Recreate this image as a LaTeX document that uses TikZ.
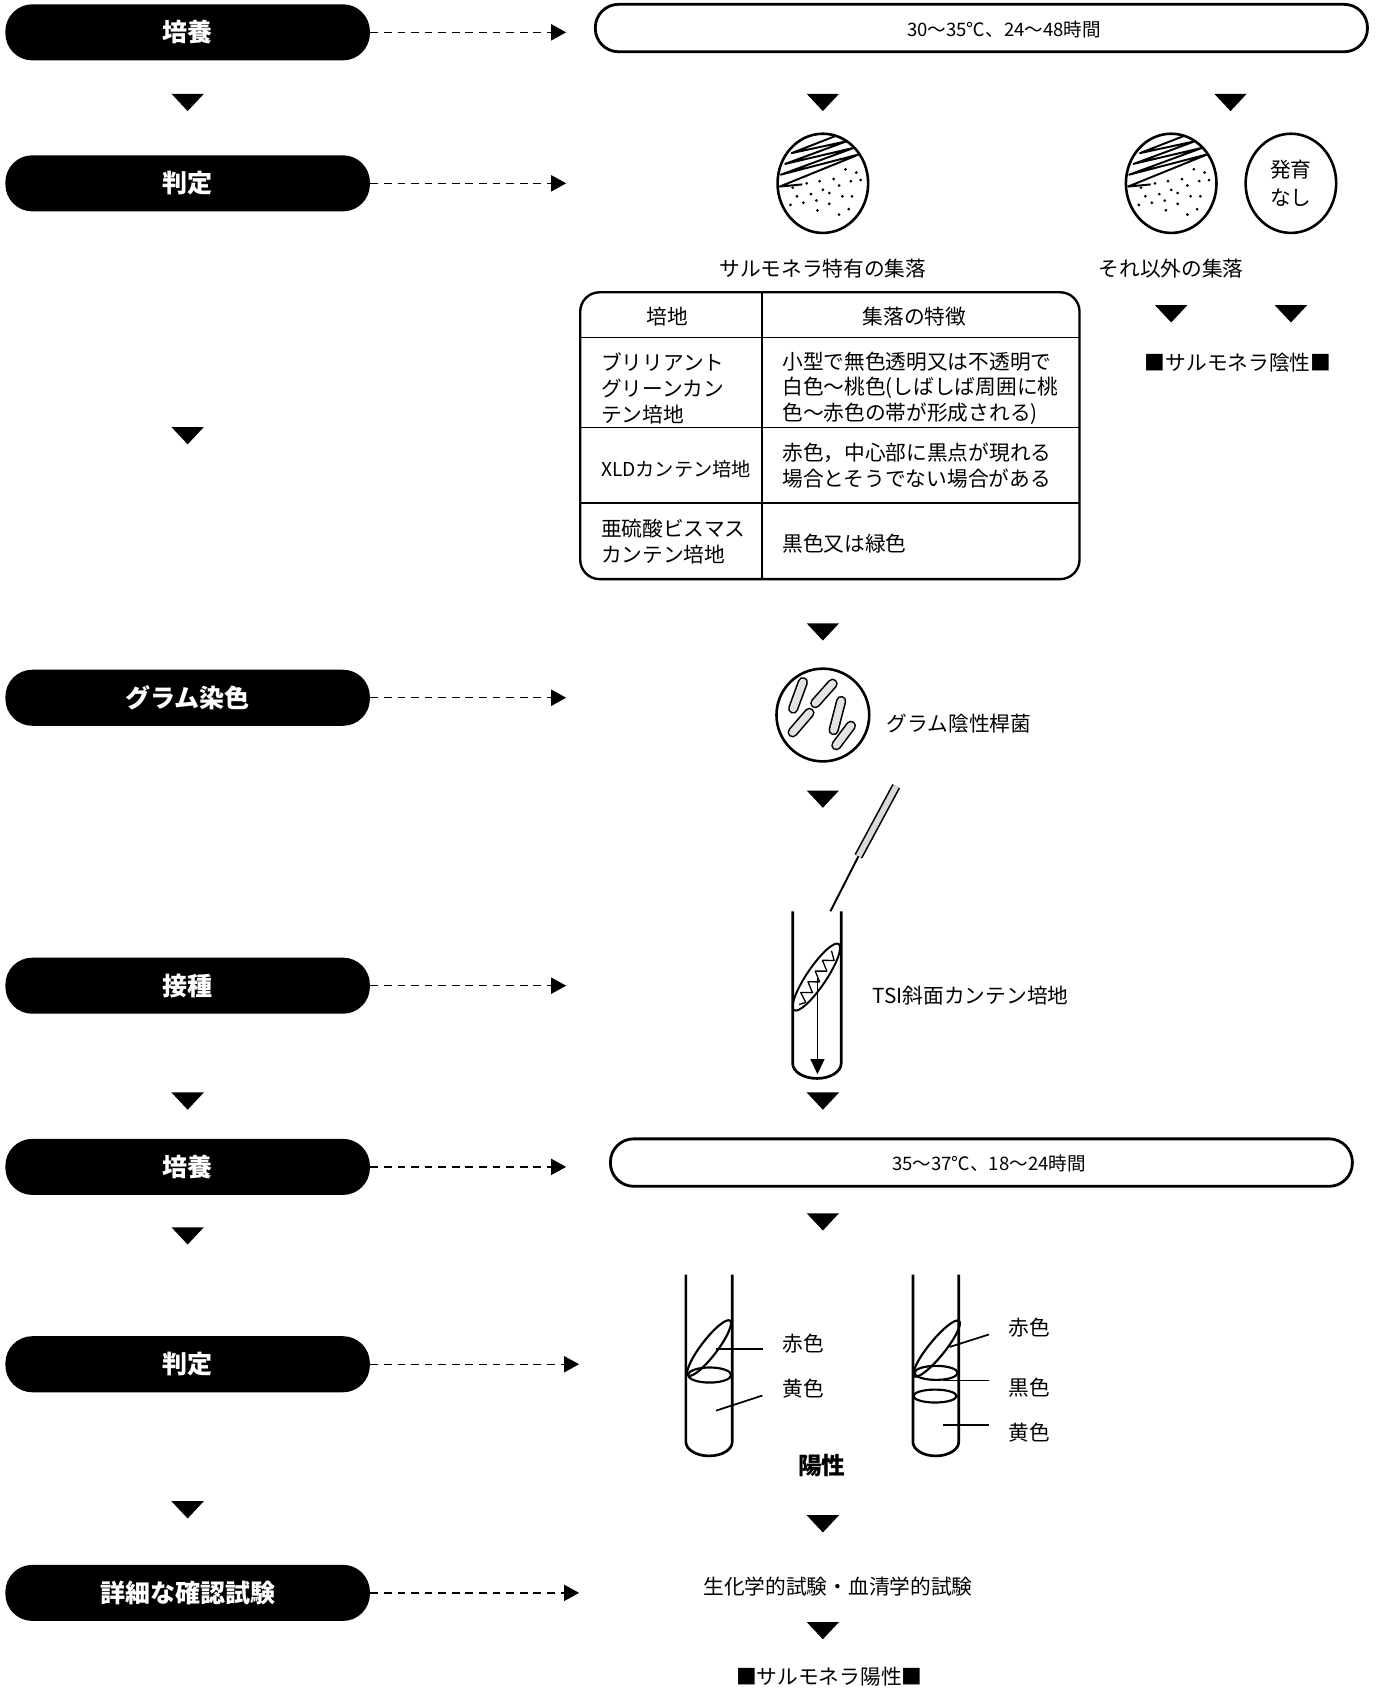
\documentclass[tikz,border=0pt]{standalone}
\usepackage{fontspec}
\setmainfont{Noto Sans CJK JP}
\usetikzlibrary{arrows.meta,shapes.geometric}

\newcommand\txtfont{\fontsize{9.6pt}{12pt}\selectfont}
\newcommand\periodfont{\fontsize{8.6pt}{10pt}\selectfont}
\newcommand\stagefont{\fontsize{11.6pt}{14pt}\selectfont\bfseries}

\tikzset{
  flowtri/.pic={\fill (-15,-8) -- (15,-8) -- (0,8) -- cycle;},
  rod/.style={line width=0.75pt, double=gray!22, double distance=3.3pt, line cap=round},
  % culture plate: streak lines in the upper part, scattered colonies below
  dish/.pic={
    \draw[line width=1.2pt] (0,0) ellipse [x radius=42, y radius=46];
    \begin{scope}
      \clip (0,0) ellipse [x radius=41, y radius=45];
      \draw[line width=0.9pt, line join=round] (-19,1) -- (-40,3) -- (34,-27) -- (-39,-8) -- (29,-33)
        -- (-35,-18) -- (22,-39) -- (-29,-28) -- (12,-44);
    \end{scope}
    \foreach \p in {(21,-13),(31,-10),(-15,0),(-3,-2),(10,-4),(26,-2),(35,-3),(15,2),(-24,12),
      (-11,10),(0,6),(6,9),(18,12),(27,12),(-18,18),(-6,16),(6,19),(-5,25),(15,29),(-28,4),(-30,20),(24,24)}
      \fill \p circle [radius=1.4];
  },
  % microscope field with rod-shaped bacteria
  gramview/.pic={
    \draw[line width=1.2pt] (0,0) circle [radius=43];
    \draw[rod] (-18.5,-30.5) -- (-27.5,-6);
    \draw[rod] (9,-29) -- (-7,-11);
    \draw[rod] (-12.5,-2) -- (-28,16);
    \draw[rod] (17,-13) -- (10,14);
    \draw[rod] (26,10) -- (12.5,28);
  }
}

\begin{document}
\begin{tikzpicture}[x=0.5pt, y=-0.5pt,
  stage/.style={fill=black, text=white, font=\stagefont, rounded corners=12.5pt,
    minimum width=169pt, minimum height=26pt, inner sep=0pt},
  period/.style={draw, line width=1.3pt, fill=white, rounded corners=10.8pt,
    minimum height=22pt, inner sep=0pt},
  flow/.style={line width=0.65pt, dash pattern=on 3.6pt off 2.7pt,
    -{Triangle[length=7pt,width=7.5pt]}},
  txt/.style={font=\txtfont, inner sep=0pt},
  cell/.style={font=\txtfont, inner sep=0pt, align=left, anchor=west},
  glass/.style={line width=1.25pt},
  lead/.style={line width=0.8pt}]
\useasboundingbox (0,0) rectangle (1281,1568);

% ---------- process steps (left column) ----------
\node[stage] (s1) at (174,30) {培養};
\node[stage] (s2) at (174,170) {判定};
\node[stage] (s3) at (174,647) {グラム染色};
\node[stage] (s4) at (174,914) {接種};
\node[stage] (s5) at (174,1082) {培養};
\node[stage] (s6) at (174,1265) {判定};
\node[stage] (s7) at (174,1477) {詳細な確認試験};

\coordinate (a1) at (525,30);
\coordinate (a2) at (525,170);
\coordinate (a3) at (525,647);
\coordinate (a4) at (525,914);
\coordinate (a5) at (525,1082);
\coordinate (a6) at (537,1265);
\coordinate (a7) at (537,1477);
\foreach \i in {1,...,7} \draw[flow] (s\i.east) -- (a\i);

\foreach \y in {95,404,1021,1146,1400} \pic at (174,\y) {flowtri};

% ---------- first incubation ----------
\node[period, minimum width=358pt] (p1) at (910,26) {};
\node[txt, font=\periodfont] (p1t) at (931,27) {30〜35℃、24〜48時間};
\pic at (763,95) {flowtri};
\pic at (1141,95) {flowtri};

% ---------- plates ----------
\pic at (763,170) {dish};
\pic at (1086,170) {dish};
\node[draw, line width=1.2pt, ellipse, minimum width=42pt, minimum height=46pt, inner sep=0pt,
  font=\fontsize{9.6pt}{13pt}\selectfont, align=center] (none) at (1197,170) {発育\\なし};
\node[txt] (c1) at (763,249) {サルモネラ特有の集落};
\node[txt] (c2) at (1086,249) {それ以外の集落};
\pic at (1086,291) {flowtri};
\pic at (1197,291) {flowtri};
\node[txt] (neg) at (1148,336) {■サルモネラ陰性■};

% ---------- table of colony appearance ----------
\node[draw, line width=1.1pt, rounded corners=9pt, minimum width=231.5pt, minimum height=133pt,
  inner sep=0pt] (tbl) at (769.5,404) {};
\draw[line width=0.7pt] (706.6,271) -- (706.6,537);
\draw[line width=0.7pt] (538,313) -- (1001,313);
\draw[line width=0.7pt] (538,396.5) -- (1001,396.5);
\draw[line width=0.7pt] (538,466.5) -- (1001,466.5);
\node[txt] (h1) at (619,293.5) {培地};
\node[txt] (h2) at (848,293.5) {集落の特徴};
\node[cell] (m1) at (557,360) {ブリリアント\\グリーンカン\\テン培地};
\node[cell] (d1) at (725,360) {小型で無色透明又は不透明で\\白色〜桃色(しばしば周囲に桃\\色〜赤色の帯が形成される)};
\node[cell, font=\fontsize{8.9pt}{12pt}\selectfont] (m2) at (557,435.5) {XLDカンテン培地};
\node[cell] (d2) at (725,432) {赤色，中心部に黒点が現れる\\場合とそうでない場合がある};
\node[cell] (m3) at (557,502) {亜硫酸ビスマス\\カンテン培地};
\node[cell] (d3) at (725,504) {黒色又は緑色};
\pic at (763,586) {flowtri};

% ---------- Gram stain ----------
\pic at (763,663) {gramview};
\node[txt, anchor=west] (gram) at (822,671) {グラム陰性桿菌};
\pic at (763,741) {flowtri};

% ---------- inoculation into TSI slant ----------
\draw[line width=0.75pt, double=gray!30, double distance=2.6pt] (831,729) -- (796,794);
\draw[line width=0.9pt] (796,794) -- (770,845);
\draw[glass] (735,845) -- (735,986) arc[start angle=180, end angle=0, x radius=22.5, y radius=14] -- (780,845);
\begin{scope}[shift={(757,906)}, rotate=56]
  \draw[line width=0.9pt] (0,0) ellipse [x radius=37, y radius=9];
  \draw[line width=0.6pt, line join=round] (-30,1) -- (-25,5) -- (-20,-4) -- (-14,5) -- (-8,-4) -- (-2,5)
    -- (4,-4) -- (10,5) -- (16,-4) -- (22,5) -- (28,-2);
\end{scope}
\draw[line width=0.7pt, -{Triangle[length=7pt,width=6.5pt]}] (758,907) -- (758,996);
\node[txt, anchor=west] (tsi) at (809,923) {TSI斜面カンテン培地};
\pic at (763,1021) {flowtri};

% ---------- second incubation ----------
\node[period, minimum width=344pt] (p2) at (910,1078) {};
\node[txt, font=\periodfont] (p2t) at (917,1079) {35〜37℃、18〜24時間};
\pic at (763,1133) {flowtri};

% ---------- reading the slants ----------
\draw[glass] (636,1182) -- (636,1337) arc[start angle=180, end angle=0, x radius=21.5, y radius=13] -- (679,1182);
\begin{scope}[shift={(657.5,1250)}, rotate=52.6]
  \draw[line width=1pt] (0,0) ellipse [x radius=32, y radius=7.5];
\end{scope}
\draw[line width=1pt] (658,1275) ellipse [x radius=20, y radius=7];
\draw[lead] (664,1251) -- (707.5,1251);
\draw[lead] (664,1308) -- (707,1294);
\node[txt, anchor=west] (ra) at (725,1246) {赤色};
\node[txt, anchor=west] (ya) at (725,1288) {黄色};

\draw[glass] (846.5,1182) -- (846.5,1337) arc[start angle=180, end angle=0, x radius=21.25, y radius=13] -- (889,1182);
\begin{scope}[shift={(868.5,1250.5)}, rotate=51]
  \draw[line width=1pt] (0,0) ellipse [x radius=33, y radius=7.5];
\end{scope}
\draw[line width=1pt] (868,1273) ellipse [x radius=20, y radius=6.5];
\draw[line width=1pt] (867,1294.5) ellipse [x radius=20, y radius=6];
\draw[lead] (880.5,1249) -- (917,1237.4);
\draw[lead] (874,1280) -- (917,1280);
\draw[lead] (874,1321.4) -- (917,1321.4);
\node[txt, anchor=west] (rb) at (935,1231) {赤色};
\node[txt, anchor=west] (kb) at (935,1287) {黒色};
\node[txt, anchor=west] (yb) at (935,1328) {黄色};
\node[txt, font=\fontsize{11pt}{13pt}\selectfont\bfseries] (pos) at (762,1359) {陽性};
\pic at (763,1413) {flowtri};

% ---------- confirmation ----------
\node[txt] (conf) at (777,1471) {生化学的試験・血清学的試験};
\pic at (763,1512) {flowtri};
\node[txt] (res) at (769,1555) {■サルモネラ陽性■};
\end{tikzpicture}
\end{document}
